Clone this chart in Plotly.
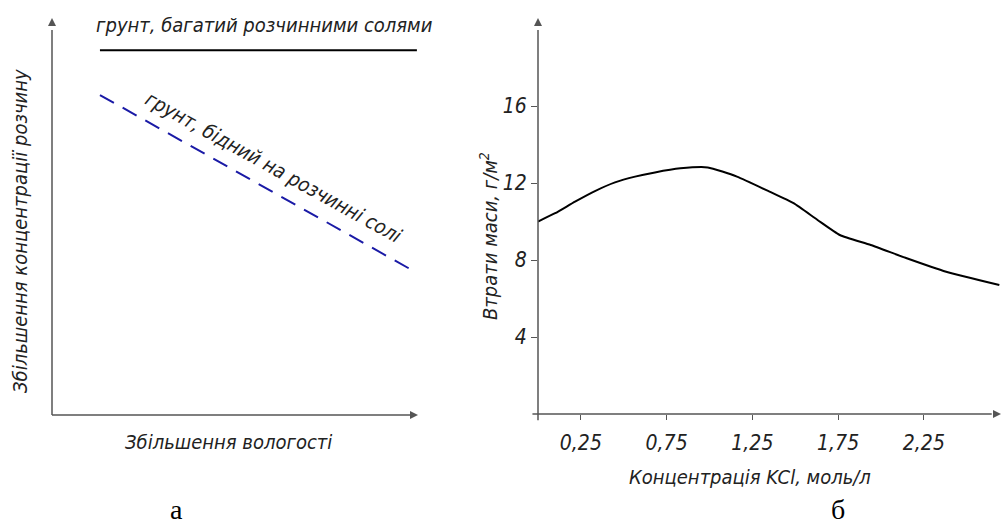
import plotly.graph_objects as go

# ---------------- data ----------------
# Panel a (schematic, relative units 0..1)
rich_x = [0.131, 0.997]
rich_y = [0.919, 0.919]
poor_x = [0.131, 0.997]
poor_y = [0.806, 0.358]

# Panel b
kcl_x = [0.0, 0.10, 0.216, 0.332, 0.449, 0.566, 0.682, 0.83, 0.99, 1.16, 1.35, 1.49, 1.63, 1.76, 1.94, 2.15, 2.38, 2.69]
loss_y = [10.0, 10.43, 11.03, 11.58, 12.03, 12.33, 12.55, 12.76, 12.81, 12.33, 11.55, 10.95, 10.08, 9.30, 8.78, 8.09, 7.39, 6.70]
x_tickvals = [0.25, 0.75, 1.25, 1.75, 2.25]
x_ticktext = ["0,25", "0,75", "1,25", "1,75", "2,25"]
y_tickvals = [4, 8, 12, 16]
y_ticktext = ["4", "8", "12", "16"]

W, H = 1001, 528
FONT = "DejaVu Sans Condensed, Liberation Sans Narrow, Roboto Condensed, Liberation Sans, sans-serif"
AX_COL = "#555555"
TXT_COL = "#222222"


def px(x):
    return x / W


def py(y):
    return 1 - y / H


fig = go.Figure()

fig.add_trace(go.Scatter(x=rich_x, y=rich_y, mode="lines",
                         line=dict(color="#000000", width=2),
                         xaxis="x", yaxis="y", showlegend=False, hoverinfo="skip"))
fig.add_trace(go.Scatter(x=poor_x, y=poor_y, mode="lines",
                         line=dict(color="#1a1aa6", width=2, dash="16px,10px"),
                         xaxis="x", yaxis="y", showlegend=False, hoverinfo="skip"))
fig.add_trace(go.Scatter(x=kcl_x, y=loss_y, mode="lines",
                         line=dict(color="#000000", width=2, shape="spline", smoothing=0.5),
                         xaxis="x2", yaxis="y2", showlegend=False, hoverinfo="skip"))

ymax2 = (414 - 18) / 19.25
xmax2 = (1001 - 538) / 171.5

# arrow heads at the ends of the axes (tip sits on the point)
fig.add_trace(go.Scatter(x=[0], y=[1.0], mode="markers", cliponaxis=False,
                         marker=dict(symbol="arrow-up", size=8, color=AX_COL),
                         xaxis="x", yaxis="y", showlegend=False, hoverinfo="skip"))
fig.add_trace(go.Scatter(x=[1.0], y=[0], mode="markers", cliponaxis=False,
                         marker=dict(symbol="arrow-right", size=8, color=AX_COL),
                         xaxis="x", yaxis="y", showlegend=False, hoverinfo="skip"))
fig.add_trace(go.Scatter(x=[0], y=[ymax2], mode="markers", cliponaxis=False,
                         marker=dict(symbol="arrow-up", size=8, color=AX_COL),
                         xaxis="x2", yaxis="y2", showlegend=False, hoverinfo="skip"))
fig.add_trace(go.Scatter(x=[xmax2], y=[0], mode="markers", cliponaxis=False,
                         marker=dict(symbol="arrow-right", size=8, color=AX_COL),
                         xaxis="x2", yaxis="y2", showlegend=False, hoverinfo="skip"))

fig.update_layout(
    width=W, height=H,
    margin=dict(l=0, r=0, t=0, b=0),
    paper_bgcolor="white", plot_bgcolor="white",
    xaxis=dict(domain=[px(52), px(418)], range=[0, 1], visible=False),
    yaxis=dict(domain=[py(415), py(18)], range=[0, 1], visible=False),
    xaxis2=dict(domain=[px(538), 1.0], range=[0, xmax2], anchor="y2",
                showgrid=False, zeroline=False, showline=False,
                tickmode="array", tickvals=x_tickvals, ticktext=x_ticktext,
                ticks="outside", ticklen=5, tickcolor=AX_COL, tickwidth=1,
                ticklabelstandoff=5,
                tickfont=dict(family=FONT, size=21, color=TXT_COL, style="italic")),
    yaxis2=dict(domain=[py(414), py(18)], range=[0, ymax2], anchor="x2",
                showgrid=False, zeroline=False, showline=False,
                tickmode="array", tickvals=y_tickvals, ticktext=y_ticktext,
                ticks="outside", ticklen=6, tickcolor=AX_COL, tickwidth=1,
                ticklabelstandoff=0,
                tickfont=dict(family=FONT, size=21, color=TXT_COL, style="italic")),
)

# axis lines (domain refs so they are not clipped)
shapes = [
    dict(type="line", xref="x domain", yref="y domain", x0=0, x1=0, y0=0, y1=0.97,
         line=dict(color=AX_COL, width=1.5)),
    dict(type="line", xref="x domain", yref="y domain", x0=0, x1=0.98, y0=0, y1=0,
         line=dict(color=AX_COL, width=1.5)),
    dict(type="line", xref="x2 domain", yref="y2 domain", x0=0, x1=0, y0=-0.016, y1=0.97,
         line=dict(color=AX_COL, width=1.5)),
    dict(type="line", xref="x2 domain", yref="y2 domain", x0=-0.012, x1=0.98, y0=0, y1=0,
         line=dict(color=AX_COL, width=1.5)),
]

ann = []
tf = dict(family=FONT, size=20, color=TXT_COL, style="italic")
ann.append(dict(xref="paper", yref="paper", x=px(264), y=py(25), text="грунт, багатий розчинними солями",
                showarrow=False, font=tf, xanchor="center", yanchor="middle"))
ann.append(dict(xref="paper", yref="paper", x=px(273), y=py(167), text="грунт, бідний на розчинні солі",
                showarrow=False, font=tf, textangle=29, xanchor="center", yanchor="middle"))
ann.append(dict(xref="paper", yref="paper", x=px(20), y=py(231), text="Збільшення концентрації розчину",
                showarrow=False, font=tf, textangle=-90, xanchor="center", yanchor="middle"))
ann.append(dict(xref="paper", yref="paper", x=px(228), y=py(442), text="Збільшення вологості",
                showarrow=False, font=tf, xanchor="center", yanchor="middle"))
ann.append(dict(xref="paper", yref="paper", x=px(489), y=py(236), text="Втрати маси, г/м<sup>2</sup>",
                showarrow=False, font=tf, textangle=-90, xanchor="center", yanchor="middle"))
ann.append(dict(xref="paper", yref="paper", x=px(750), y=py(477), text="Концентрація KCl, моль/л",
                showarrow=False, font=tf, xanchor="center", yanchor="middle"))
lf = dict(family="Liberation Serif", size=28, color="#000000")
ann.append(dict(xref="paper", yref="paper", x=px(176), y=0.002, text="а",
                showarrow=False, font=lf, xanchor="center", yanchor="bottom"))
ann.append(dict(xref="paper", yref="paper", x=px(838), y=0.002, text="б",
                showarrow=False, font=lf, xanchor="center", yanchor="bottom"))

fig.update_layout(annotations=ann, shapes=shapes)
fig.write_html("out.html", config={"displayModeBar": False},
               post_script="document.body.style.margin='0';")
